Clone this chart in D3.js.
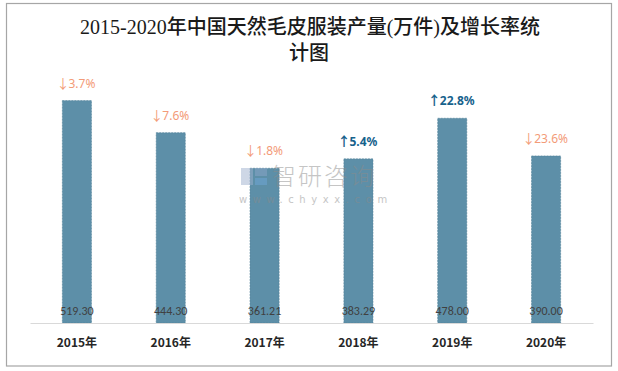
<!DOCTYPE html>
<html>
<head>
<meta charset="utf-8">
<script src="https://cdn.jsdelivr.net/npm/d3@7"></script>
<style>
  body { margin: 0; background: #fff; }
  svg { display: block; }
</style>
</head>
<body>
<svg id="chart" width="618" height="371"></svg>
<script>
// data
var years = ["2015年", "2016年", "2017年", "2018年", "2019年", "2020年"];
var output = [519.30, 444.30, 361.21, 383.29, 478.00, 390.00];
var growth = [-3.7, -7.6, -1.8, 5.4, 22.8, -23.6];
var yTicks = [0, 600];

var svg = d3.select('#chart');
var width = 618, height = 371;
var margin = {top: 66, left: 30, bottom: 48, right: 25};

// outer frame
svg.append("rect")
    .attr("x", 6.5).attr("y", 3.5)
    .attr("width", 605).attr("height", 362.5)
    .attr("fill", "#fff").attr("stroke", "#a6a6a6").attr("stroke-width", 1.2);

// title
var title = svg.append("text")
    .attr("text-anchor", "middle")
    .style("font-family", "'Liberation Serif', 'Noto Sans CJK SC', serif")
    .style("font-size", "20px")
    .style("font-weight", "500")
    .style("fill", "#1a1a1a");
title.append("tspan").attr("x", 310).attr("y", 34)
    .text("2015-2020年中国天然毛皮服装产量(万件)及增长率统");
title.append("tspan").attr("x", 309).attr("y", 60).text("计图");

var x = d3.scaleBand().domain(years)
    .range([margin.left, width - margin.right])
    .paddingInner(0.69).paddingOuter(0.345);
var y = d3.scaleLinear().domain(d3.extent(yTicks))
    .range([height - margin.bottom, margin.top]);

// bars
svg.selectAll("rect.bar")
    .data(output)
    .enter().append("rect")
    .attr("class", "bar")
    .attr("x", function(d, i) { return x(years[i]); })
    .attr("y", function(d) { return y(d); })
    .attr("width", x.bandwidth())
    .attr("height", function(d) { return y(0) - y(d); })
    .attr("fill", "#5d8fa8")
    .attr("stroke", "#4f7f97")
    .attr("stroke-width", 0.6)
    .attr("stroke-dasharray", "2,1");

// x axis
var xAxis = d3.axisBottom(x).tickSize(0).tickPadding(15);
var gx = svg.append("g")
    .attr("transform", "translate(0," + y(0) + ")")
    .call(xAxis);
gx.select(".domain").attr("stroke", "#d9d9d9").attr("stroke-width", 1.2);
gx.selectAll("text")
    .style("font-family", "'Noto Sans CJK SC', sans-serif")
    .style("font-size", "12px")
    .style("font-weight", "bold")
    .style("fill", "#262626");

// value labels
svg.selectAll("text.val")
    .data(output)
    .enter().append("text")
    .attr("class", "val")
    .attr("x", function(d, i) { return x(years[i]) + x.bandwidth() / 2; })
    .attr("y", y(0) - 8)
    .attr("text-anchor", "middle")
    .style("font-family", "Calibri, 'Liberation Sans', 'Noto Sans', sans-serif")
    .style("font-size", "12px")
    .style("fill", "#404040")
    .text(function(d) { return d.toFixed(2); });

// growth labels
var g = svg.selectAll("text.growth")
    .data(growth)
    .enter().append("text")
    .attr("class", "growth")
    .attr("x", function(d, i) { return x(years[i]) + x.bandwidth() / 2; })
    .attr("y", function(d, i) { return y(output[i]) - 13; })
    .attr("text-anchor", "middle")
    .style("font-family", "'Noto Sans', sans-serif")
    .style("font-size", "12px")
    .style("font-weight", function(d) { return d > 0 ? "bold" : "normal"; })
    .style("fill", function(d) { return d > 0 ? "#17628c" : "#f39b78"; });
g.append("tspan")
    .style("font-family", "'Noto Sans CJK SC', sans-serif")
    .style("font-size", "13px")
    .attr("dx", "-1")
    .text(function(d) { return d > 0 ? "↑" : "↓"; });
g.append("tspan")
    .attr("dx", "-1")
    .text(function(d) { return Math.abs(d).toFixed(1) + "%"; });

// watermark
var wm = svg.append("g").attr("opacity", 0.5);
wm.append("rect").attr("x", 241).attr("y", 168).attr("width", 12).attr("height", 17).attr("fill", "#9fb1cf");
wm.append("rect").attr("x", 255).attr("y", 168).attr("width", 12).attr("height", 8).attr("fill", "#8ca6c8");
wm.append("rect").attr("x", 255).attr("y", 178).attr("width", 12).attr("height", 7).attr("fill", "#6fa7d8");
wm.append("text").attr("x", 272).attr("y", 185)
    .style("font-family", "'Noto Sans CJK SC', sans-serif")
    .style("font-size", "24px")
    .style("font-weight", "300")
    .style("letter-spacing", "2px")
    .style("fill", "#8c8c8c")
    .text("智研咨询");
wm.append("text").attr("x", 239).attr("y", 203)
    .style("font-family", "'DejaVu Sans', sans-serif")
    .style("font-size", "10px")
    .style("letter-spacing", "5.6px")
    .style("fill", "#8c8c8c")
    .text("www.chyxx.com");
</script>
</body>
</html>
